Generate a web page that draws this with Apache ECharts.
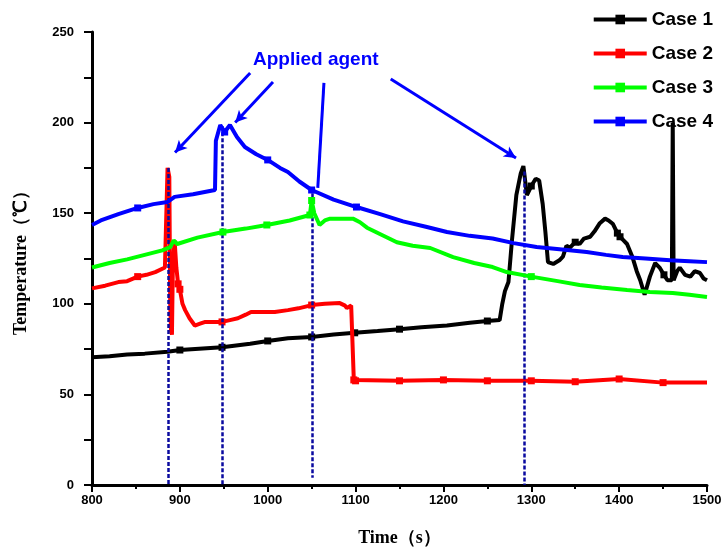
<!DOCTYPE html>
<html>
<head>
<meta charset="utf-8">
<script src="https://cdn.jsdelivr.net/npm/echarts@6/dist/echarts.min.js"></script>
<style>html,body{margin:0;padding:0;background:#fff}#c{width:728px;height:555px}</style>
</head>
<body>
<div id="c"></div>
<script>
const seriesNames = ['Case 1', 'Case 2', 'Case 3', 'Case 4'];
const case1 = [[800,70.5],[820,71],[840,72],[860,72.5],[886,73.5],[900,74.5],[948,76],[980,78],[1000,79.5],[1023,81],[1050,81.7],[1075,83],[1099,84],[1125,85],[1150,86],[1175,87],[1204,88],[1230,89.5],[1250,90.5],[1264,91],[1267,100],[1270,107],[1274,112],[1278,135],[1283,160],[1288,172],[1291,176],[1295,160],[1300,165],[1305,169],[1309,168],[1313,155],[1316,140],[1319,123],[1325,122],[1332,124],[1336,126],[1340,132],[1344,131],[1350,134],[1355,133],[1360,136],[1367,137],[1372,140],[1378,144.5],[1384,147],[1388,146],[1393,144],[1398,139],[1401,137],[1405,135],[1409,133],[1415,126],[1420,118],[1424,113],[1429,105],[1435,115],[1441,122.5],[1446,120],[1451,116],[1455,113],[1460,113],[1461,200],[1462,113],[1466,118],[1469,120],[1475,116],[1481,115],[1486,118],[1492,117],[1496,114],[1500,113]];
const case2 = [[800,108.5],[815,110],[830,112],[840,112.5],[852,115],[862,116],[872,117.5],[883,120],[885,121],[886,175],[888,170],[889,100],[890,85],[891,83],[892,120],[894,135],[896,120],[898,111],[900,108],[903,100],[906,96.5],[911,92],[917,88],[923,89],[929,90],[940,90],[948,90],[957,91],[966,92],[975,94],[981,95.5],[995,95.5],[1008,95.5],[1023,96.5],[1035,97.5],[1050,99.3],[1065,100],[1082,100.4],[1088,99],[1090,97.7],[1095,99],[1097,99],[1098,58],[1100,57.5],[1150,57.5],[1200,58],[1250,57.5],[1300,57.5],[1350,57],[1400,58.5],[1450,56.5],[1500,56.5]];
const case3 = [[800,120],[820,122.5],[840,124.5],[860,127],[880,129.5],[889,131.3],[893,135],[897,133],[920,136.5],[949,139.6],[975,141.5],[999,143.5],[1025,146],[1048,149],[1050,157],[1053,150],[1059,143.5],[1065,146],[1071,147],[1085,147],[1097,147],[1105,145],[1113,142],[1130,138],[1147,134],[1165,132],[1185,130.8],[1211,125.8],[1235,122.5],[1256,120.3],[1272,117.5],[1300,115],[1330,112.5],[1355,110.4],[1380,109],[1409,107.6],[1435,106.5],[1461,106],[1480,105],[1500,103.8]];
const case4 = [[800,143.5],[810,146],[830,149.5],[852,152.9],[870,155],[886,156.2],[894,159],[915,160.5],[940,162.8],[941,190],[946,198.7],[951,194.8],[957,198.7],[965,192],[974,186.5],[987,182.5],[1000,179.4],[1014,175],[1023,172.7],[1036,167.5],[1050,162.8],[1075,157.5],[1101,153.4],[1128,149.5],[1154,145.5],[1180,142.5],[1204,139.6],[1230,137.5],[1256,136],[1280,133.5],[1306,131.3],[1335,130],[1363,128.6],[1385,127],[1404,125.8],[1430,125],[1458,124],[1480,123.5],[1500,123]];
const markerTimes = [850, 900, 950, 1000, 1050, 1100, 1150, 1200, 1250, 1300, 1350, 1400, 1450];
// vertical dashed lines: [time, top temperature, bottom temperature]
const agentLines = [[886.5,175,0],[948,198,0],[1050.5,161,4],[1292.5,173,0]];
// arrows from label: [startTime, startTemp, endTime, endTemp, head]
const arrows = [[980,227.4,894.5,183.5,1],[1006,222.4,963,200,1],[1064,221.9,1057,164,0],[1140,224.1,1282.6,180.5,1]];
const xTicks = {min: 800, max: 1500, interval: 100};
const yTicks = {min: 0, max: 250, interval: 50};

const colors = ['#000000', '#ff0000', '#00ff00', '#0000ff'];
const datasets = [case1, case2, case3, case4];

function symSize(v) {
  return markerTimes.some(t => Math.abs(v[0] - t) < 3) ? 7 : 0;
}

const series = datasets.map((d, i) => ({
  name: seriesNames[i],
  type: 'line',
  data: d,
  symbol: 'rect',
  symbolSize: symSize,
  showSymbol: true,
  color: colors[i],
  lineStyle: {width: 4, color: colors[i]},
  itemStyle: {color: colors[i]},
  z: 3 + i,
  animation: false
}));

series.push({
  name: 'agent',
  type: 'line',
  data: [],
  animation: false,
  z: 10,
  markLine: {
    silent: true,
    animation: false,
    symbol: ['none', 'none'],
    label: {show: false},
    lineStyle: {color: '#0a0aa0', width: 2.5, type: [4, 2]},
    data: agentLines.map(l => [{coord: [l[0], l[1]]}, {coord: [l[0], l[2]]}])
  }
});
series.push({
  name: 'arrows',
  type: 'line',
  data: [],
  animation: false,
  z: 11,
  markLine: {
    silent: true,
    animation: false,
    label: {show: false},
    lineStyle: {color: '#0000ff', width: 3, type: 'solid'},
    data: arrows.map(a => [
      {coord: [a[0], a[1]], symbol: 'none'},
      {coord: [a[2], a[3]], symbol: a[4] ? 'arrow' : 'none', symbolSize: [9, 12]}
    ])
  }
});

const chart = echarts.init(document.getElementById('c'), null, {renderer: 'canvas'});
chart.setOption({
  animation: false,
  backgroundColor: '#ffffff',
  grid: {left: 92, right: 21, top: 32, bottom: 70, containLabel: false},
  legend: {
    data: seriesNames,
    orient: 'vertical',
    right: 10,
    top: 5,
    itemWidth: 53,
    itemHeight: 12,
    itemGap: 15,
    lineStyle: {width: 4},
    textStyle: {fontFamily: 'Liberation Sans', fontWeight: 'bold', fontSize: 19, color: '#000'}
  },
  xAxis: {
    type: 'value',
    min: xTicks.min, max: xTicks.max, interval: xTicks.interval,
    name: 'Time（s）',
    nameLocation: 'middle',
    nameGap: 44,
    nameTextStyle: {fontFamily: 'Liberation Serif', fontWeight: 'bold', fontSize: 18, color: '#000'},
    axisLine: {onZero: false, lineStyle: {color: '#000', width: 3}},
    axisTick: {show: true, inside: false, length: 7, lineStyle: {width: 2, color: '#000'}},
    minorTick: {show: true, splitNumber: 2, length: 4, lineStyle: {width: 2, color: '#000'}},
    splitLine: {show: false},
    axisLabel: {fontFamily: 'Liberation Sans', fontWeight: 'bold', fontSize: 13, color: '#000', margin: 9, formatter: v => String(v)}
  },
  yAxis: {
    type: 'value',
    min: yTicks.min, max: yTicks.max, interval: yTicks.interval,
    name: 'Temperature（℃）',
    nameLocation: 'middle',
    nameGap: 62,
    nameRotate: 90,
    nameTextStyle: {fontFamily: 'Liberation Serif', fontWeight: 'bold', fontSize: 18, color: '#000'},
    axisLine: {show: true, onZero: false, lineStyle: {color: '#000', width: 3}},
    axisTick: {show: true, inside: false, length: 8, lineStyle: {width: 2, color: '#000'}},
    minorTick: {show: true, splitNumber: 2, length: 8, lineStyle: {width: 2, color: '#000'}},
    splitLine: {show: false},
    axisLabel: {fontFamily: 'Liberation Sans', fontWeight: 'bold', fontSize: 13, color: '#000', margin: 18, formatter: v => String(v)}
  },
  graphic: [{
    type: 'text',
    left: 253,
    top: 50,
    style: {text: 'Applied agent', fill: '#0000ff', font: 'bold 19px "Liberation Sans"'}
  }],
  series: series
});
</script>
</body>
</html>
